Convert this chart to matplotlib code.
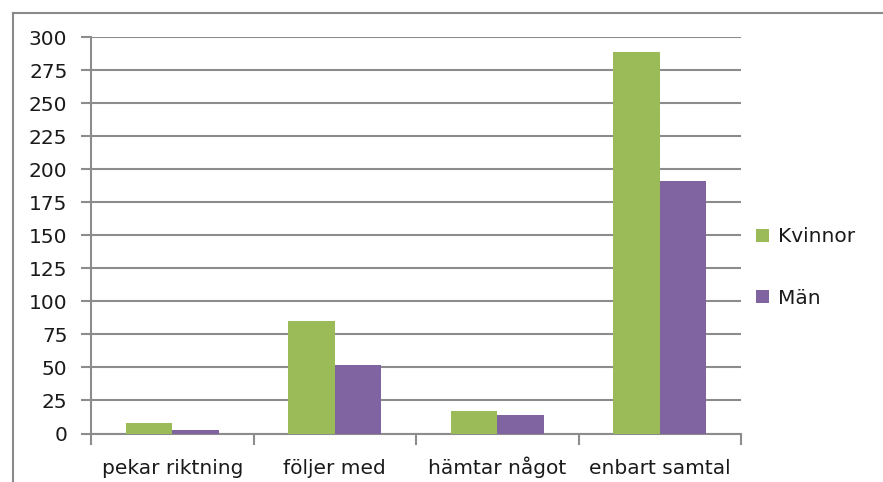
import matplotlib
matplotlib.use("Agg")
import matplotlib.pyplot as plt
from matplotlib.lines import Line2D
from matplotlib.patches import Patch
import numpy as np

categories = ["pekar riktning", "följer med", "hämtar något", "enbart samtal"]
kvinnor = [8, 85, 17, 289]
man = [3, 52, 14, 191]
series_names = ["Kvinnor", "Män"]
yticks = list(range(0, 301, 25))

green = "#9BBB59"
purple = "#8064A2"
grid_c = "#8C8C8C"
text_c = "#1A1A1A"

plt.rcParams['font.family'] = ['DejaVu Sans']
FS = 14.5

fig = plt.figure(figsize=(8.83, 4.82), dpi=100)
W, H = 883, 482
ax = fig.add_axes([91 / W, 1 - 433.5 / H, (741 - 91) / W, (433.5 - 37.3) / H])

x = np.arange(len(categories))
bw = 0.285
ax.bar(x - bw / 2, kvinnor, bw, color=green, label=series_names[0], zorder=3)
ax.bar(x + bw / 2, man, bw, color=purple, label=series_names[1], zorder=3)

ax.set_xlim(-0.5, len(categories) - 0.5)
ax.set_ylim(0, 300)
ax.set_yticks(yticks)
ax.set_yticklabels([str(v) for v in yticks], fontsize=FS, color=text_c)
ax.yaxis.grid(True, color=grid_c, linewidth=1.5, zorder=0)
ax.set_axisbelow(True)

# category ticks at boundaries, labels centered
ax.set_xticks(np.arange(-0.5, len(categories), 1.0))
ax.set_xticklabels([])
ax.set_xticks(x, minor=True)
ax.set_xticklabels(categories, minor=True, fontsize=FS, color=text_c)
for lbl in ax.get_xticklabels(minor=True):
    lbl.set_verticalalignment('baseline')
ax.tick_params(axis='x', which='major', length=8, width=1.5, color=grid_c, direction='out')
ax.tick_params(axis='x', which='minor', length=0, pad=29)
ax.tick_params(axis='y', length=7, width=1.5, color=grid_c, pad=10)

for s in ['top', 'right']:
    ax.spines[s].set_visible(False)
for s in ['left', 'bottom']:
    ax.spines[s].set_color(grid_c)
    ax.spines[s].set_linewidth(1.5)

handles = [Patch(facecolor=green), Patch(facecolor=purple)]
fig.legend(handles, series_names, loc='center left',
           bbox_to_anchor=(738 / W, 1 - 267.5 / H), frameon=False,
           fontsize=FS, handlelength=0.65, handleheight=0.65,
           handletextpad=0.45, labelspacing=2.1, labelcolor=text_c)

# chart area border
fig.add_artist(Line2D([12.5 / W, 12.5 / W], [0, 1 - 12.5 / H], color="#8A8A8A", linewidth=1.5))
fig.add_artist(Line2D([12.5 / W, 1], [1 - 12.5 / H, 1 - 12.5 / H], color="#8A8A8A", linewidth=1.5))

fig.savefig("out.png", dpi=100)
